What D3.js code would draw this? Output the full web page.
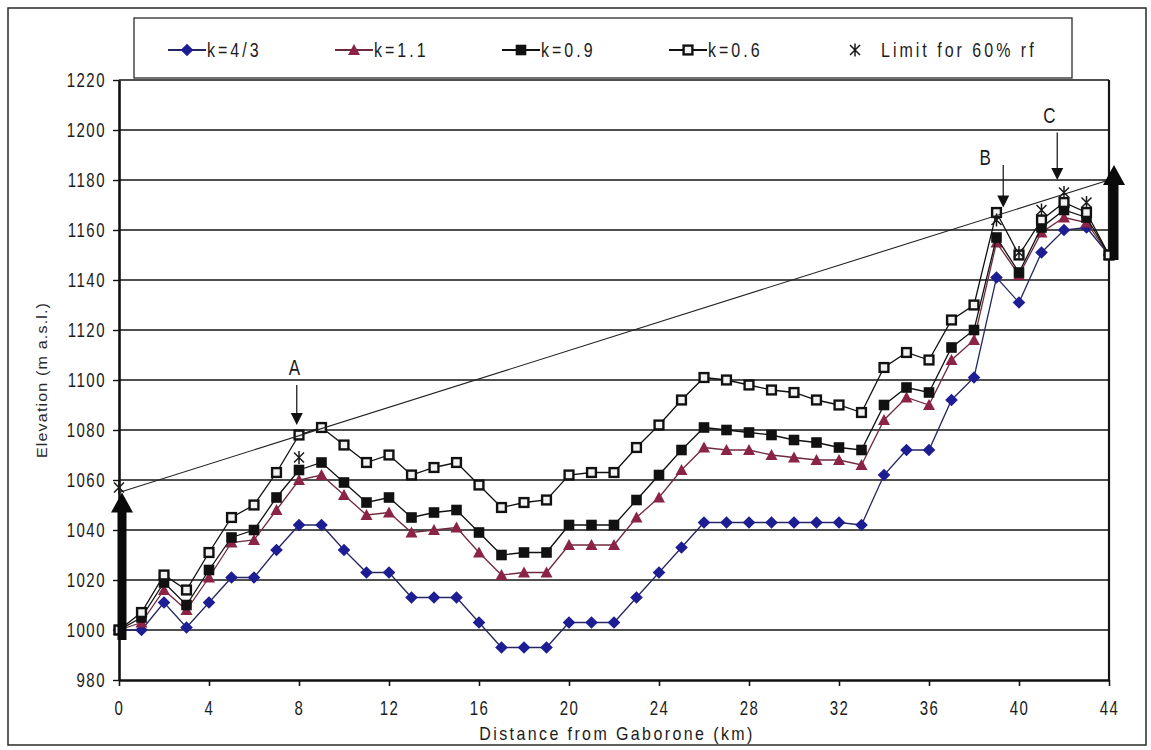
<!DOCTYPE html>
<html>
<head>
<meta charset="utf-8">
<script src="https://cdn.jsdelivr.net/npm/d3@7"></script>
<style>
  body { margin: 0; background: #fff; }
  svg { display: block; font-family: "Liberation Sans", Arial, sans-serif; }
</style>
</head>
<body>
<svg id="chart" width="1151" height="750"></svg>
<script>
// Terrain profile along the link from Gaborone, for several k-factors (elevation in m a.s.l.)
const distanceKm = [0,1,2,3,4,5,6,7,8,9,10,11,12,13,14,15,16,17,18,19,20,21,22,
                    23,24,25,26,27,28,29,30,31,32,33,34,35,36,37,38,39,40,41,42,43,44];
const elevK43 = [1000,1000,1011,1001,1011,1021,1021,1032,1042,1042,1032,1023,1023,1013,1013,1013,1003,993,993,993,1003,1003,1003,
                 1013,1023,1033,1043,1043,1043,1043,1043,1043,1043,1042,1062,1072,1072,1092,1101,1141,1131,1151,1160,1161,1150];
const elevK11 = [1000,1003,1016,1008,1021,1035,1036,1048,1060,1062,1054,1046,1047,1039,1040,1041,1031,1022,1023,1023,1034,1034,1034,
                 1045,1053,1064,1073,1072,1072,1070,1069,1068,1068,1066,1084,1093,1090,1108,1116,1155,1142,1159,1165,1163,1150];
const elevK09 = [1000,1005,1019,1010,1024,1037,1040,1053,1064,1067,1059,1051,1053,1045,1047,1048,1039,1030,1031,1031,1042,1042,1042,
                 1052,1062,1072,1081,1080,1079,1078,1076,1075,1073,1072,1090,1097,1095,1113,1120,1157,1143,1161,1168,1165,1150];
const elevK06 = [1000,1007,1022,1016,1031,1045,1050,1063,1078,1081,1074,1067,1070,1062,1065,1067,1058,1049,1051,1052,1062,1063,1063,
                 1073,1082,1092,1101,1100,1098,1096,1095,1092,1090,1087,1105,1111,1108,1124,1130,1167,1150,1164,1171,1167,1150];

// Clearance limit for 60 % of the first Fresnel zone
const limitKm   = [0, 8, 39, 40, 41, 42, 43];
const limitElev = [1057, 1069, 1164, 1151, 1168, 1175, 1171];

const xTicks = [0,4,8,12,16,20,24,28,32,36,40,44];
const yTicks = [980,1000,1020,1040,1060,1080,1100,1120,1140,1160,1180,1200,1220];

// Line of sight between the two antennas
const sightKm   = [0, 44];
const sightElev = [1055, 1180];

// Antenna masts (ground level to antenna height)
const mastKm   = [0, 44];
const mastBase = [996, 1148];
const mastTop  = [1055, 1186];

// Critical obstacles
const calloutLabels   = ["A", "B", "C"];
const calloutKm       = [7.9, 39.3, 41.7];
const calloutFrom     = [1098, 1186, 1199];
const calloutTo       = [1082, 1169, 1180];
const calloutLabelKm  = [7.8, 38.5, 41.35];
const calloutLabelEl  = [1105, 1189, 1206];

const seriesNames = ["k=4/3", "k=1.1", "k=0.9", "k=0.6"];
const seriesValues = [elevK43, elevK11, elevK09, elevK06];
const limitName = "Limit for 60% rf";

// ---- styling ----
const seriesStyle = [
  { line: "#262660", marker: "diamond",  fill: "#1d1d94" },
  { line: "#6e2a3c", marker: "triangle", fill: "#8b2346" },
  { line: "#111111", marker: "square",   fill: "#111111" },
  { line: "#111111", marker: "open",     fill: "#f2f2f2" }
];

const margin = { top: 80, right: 42, bottom: 70, left: 119 };
const W = 1151 - margin.left - margin.right;
const H = 750 - margin.top - margin.bottom;

const svg = d3.select("#chart");

// outer frame of the figure
svg.append("rect")
  .attr("x", 8).attr("y", 8).attr("width", 1138).attr("height", 737)
  .attr("fill", "none").attr("stroke", "#2a2a2a").attr("stroke-width", 1.5);

const g = svg.append("g").attr("transform", `translate(${margin.left},${margin.top})`);

const x = d3.scaleLinear().domain([0, 44]).range([0, W]);
const y = d3.scaleLinear().domain([980, 1220]).range([H, 0]);

// horizontal gridlines
g.append("g").selectAll("line")
  .data(yTicks.filter(t => t > 980))
  .join("line")
  .attr("x1", 0).attr("x2", W)
  .attr("y1", d => y(d)).attr("y2", d => y(d))
  .attr("stroke", "#151515").attr("stroke-width", 1.4);

// right edge of the plot area
g.append("line")
  .attr("x1", W).attr("x2", W).attr("y1", 0).attr("y2", H)
  .attr("stroke", "#151515").attr("stroke-width", 2.2);

// axes
const ya = g.append("g")
  .call(d3.axisLeft(y).tickValues(yTicks).tickSize(6).tickSizeOuter(0).tickFormat(d3.format("d")));
ya.attr("font-family", null).attr("font-size", 15);
ya.select(".domain").attr("stroke", "#111").attr("stroke-width", 2.6);
ya.selectAll(".tick line").attr("stroke", "#111").attr("stroke-width", 1.4);
ya.selectAll(".tick text")
  .attr("x", -13).attr("fill", "#1c1c1c").attr("letter-spacing", 1.5)
  .attr("transform", "scale(1,1.35)");

const xa = g.append("g").attr("transform", `translate(0,${H})`)
  .call(d3.axisBottom(x).tickValues(xTicks).tickSize(6).tickSizeOuter(0));
xa.attr("font-family", null).attr("font-size", 15);
xa.select(".domain").attr("stroke", "#111").attr("stroke-width", 2.6);
xa.selectAll(".tick line").attr("stroke", "#111").attr("stroke-width", 1.6);
xa.selectAll(".tick text")
  .attr("y", 15).attr("fill", "#1c1c1c").attr("letter-spacing", 1.5)
  .attr("transform", "scale(1,1.35)");

// axis titles
svg.append("text")
  .attr("transform", `translate(${margin.left + W / 2 + 3},740) scale(1,1.15)`)
  .attr("text-anchor", "middle").attr("font-size", 16).attr("letter-spacing", 2.4)
  .attr("fill", "#1c1c1c")
  .text("Distance from Gaborone (km)");

svg.append("text")
  .attr("transform", `translate(47,${margin.top + H / 2}) rotate(-90) scale(1.15,1)`)
  .attr("text-anchor", "middle").attr("font-size", 14).attr("letter-spacing", 1)
  .attr("fill", "#2a2a2a")
  .text("Elevation (m a.s.l.)");

// marker drawing
function drawMarker(sel, kind, fill) {
  if (kind === "diamond") {
    sel.append("path").attr("d", "M0,-6.3L6.3,0L0,6.3L-6.3,0Z").attr("fill", fill);
  } else if (kind === "triangle") {
    sel.append("path").attr("d", "M0,-6L6,5L-6,5Z").attr("fill", fill);
  } else if (kind === "square") {
    sel.append("rect").attr("x", -5.3).attr("y", -5.3).attr("width", 10.6).attr("height", 10.6).attr("fill", fill);
  } else if (kind === "open") {
    sel.append("rect").attr("x", -4.4).attr("y", -4.4).attr("width", 8.8).attr("height", 8.8)
      .attr("fill", fill).attr("stroke", "#111").attr("stroke-width", 2.4);
  } else if (kind === "star") {
    sel.append("path").attr("d", "M-5,-5L5,5M-5,5L5,-5M0,-6.5L0,6.5")
      .attr("fill", "none").attr("stroke", "#1a1a1a").attr("stroke-width", 1.5);
  }
}

// profile series
const line = d3.line().x((d, i) => x(distanceKm[i])).y(d => y(d));
seriesValues.forEach((vals, s) => {
  const st = seriesStyle[s];
  g.append("path").datum(vals)
    .attr("d", line).attr("fill", "none")
    .attr("stroke", st.line).attr("stroke-width", 1.3);
  g.append("g").selectAll("g")
    .data(vals).join("g")
    .attr("transform", (d, i) => `translate(${x(distanceKm[i])},${y(d)})`)
    .each(function () { drawMarker(d3.select(this), st.marker, st.fill); });
});

// line of sight
g.append("line")
  .attr("x1", x(sightKm[0])).attr("y1", y(sightElev[0]))
  .attr("x2", x(sightKm[1])).attr("y2", y(sightElev[1]))
  .attr("stroke", "#222").attr("stroke-width", 1.1);

// Fresnel clearance limit markers
g.append("g").selectAll("g")
  .data(limitElev).join("g")
  .attr("transform", (d, i) => `translate(${x(limitKm[i])},${y(d)})`)
  .each(function () { drawMarker(d3.select(this), "star"); });

// antenna masts as thick arrows
const mastNudge = [3, 5];
mastKm.forEach((k, i) => {
  const cx = x(k) + mastNudge[i];
  const yb = y(mastBase[i]), yt = y(mastTop[i]);
  const sw = 9, hw = 22, hl = 20;
  g.append("path")
    .attr("d", `M${cx - sw / 2},${yb}L${cx - sw / 2},${yt + hl}L${cx - hw / 2},${yt + hl}L${cx},${yt}` +
               `L${cx + hw / 2},${yt + hl}L${cx + sw / 2},${yt + hl}L${cx + sw / 2},${yb}Z`)
    .attr("fill", "#0a0a0a");
});

// obstacle callouts
calloutLabels.forEach((lab, i) => {
  const cx = x(calloutKm[i]);
  const y0 = y(calloutFrom[i]), y1 = y(calloutTo[i]);
  g.append("line").attr("x1", cx).attr("x2", cx).attr("y1", y0).attr("y2", y1 - 10)
    .attr("stroke", "#222").attr("stroke-width", 1.3);
  g.append("path").attr("d", `M${cx - 6},${y1 - 12}L${cx + 6},${y1 - 12}L${cx},${y1}Z`).attr("fill", "#111");
  g.append("text")
    .attr("transform", `translate(${x(calloutLabelKm[i])},${y(calloutLabelEl[i])}) scale(1,1.25)`)
    .attr("text-anchor", "middle").attr("dy", "0.36em")
    .attr("font-size", 17).attr("fill", "#1a1a1a")
    .text(lab);
});

// legend
const legend = svg.append("g");
legend.append("rect")
  .attr("x", 134).attr("y", 18).attr("width", 938).attr("height", 60)
  .attr("fill", "#fff").attr("stroke", "#2a2a2a").attr("stroke-width", 1.3);
const legendNames = seriesNames.concat([limitName]);
legendNames.forEach((name, i) => {
  const lx = 168 + i * 167, ly = 50;
  const item = legend.append("g");
  if (i < seriesNames.length) {
    item.append("line").attr("x1", lx).attr("x2", lx + 38).attr("y1", ly).attr("y2", ly)
      .attr("stroke", seriesStyle[i].line).attr("stroke-width", 2.2);
    drawMarker(item.append("g").attr("transform", `translate(${lx + 19},${ly})`),
               seriesStyle[i].marker, seriesStyle[i].fill);
  } else {
    drawMarker(item.append("g").attr("transform", `translate(${lx + 19},${ly})`), "star");
  }
  item.append("text")
    .attr("transform", `translate(${lx + (i < seriesNames.length ? 39 : 45)},${ly}) scale(1,1.25)`)
    .attr("dy", "0.36em").attr("font-size", 16).attr("letter-spacing", 3)
    .attr("fill", "#1c1c1c")
    .text(name);
});
</script>
</body>
</html>
